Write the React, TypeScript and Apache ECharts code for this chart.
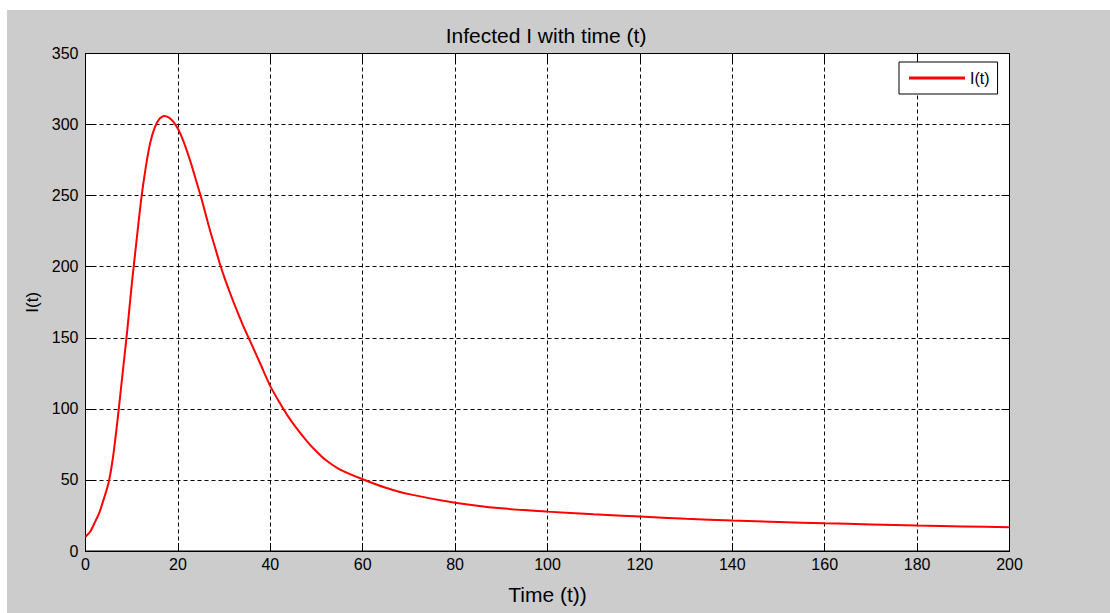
import React, { useEffect, useRef } from "react";
import * as echarts from "echarts";

const timeValues = [0, 1, 2, 3, 4, 5, 6, 7, 8, 9, 10, 11, 12, 13, 14, 15, 16, 17, 18, 19, 20, 21, 22, 23, 24, 25, 26, 27, 28, 29, 30, 31, 32, 34, 36, 38, 40, 42, 44, 46, 48, 50, 52, 55, 60, 65, 70, 80, 90, 100, 110, 120, 130, 140, 150, 160, 170, 180, 190, 200];
const infectedValues = [10, 13.5, 20, 27, 37, 48, 67, 94, 124, 154, 187, 217, 246, 269, 287, 298, 304, 306, 305, 302, 297, 290, 281, 271, 260, 249, 237, 225, 214, 203, 193, 184, 175.5, 159.5, 145, 130.5, 116, 104.5, 94, 85, 77, 70, 64, 57.5, 50.5, 44.5, 40, 34, 30, 27.7, 25.8, 24.2, 22.7, 21.4, 20.4, 19.5, 18.7, 17.9, 17.3, 16.7];
const xTicks = { min: 0, max: 200, interval: 20 };
const yTicks = { min: 0, max: 350, interval: 50 };
const titleText = "Infected I with time (t)";
const xName = "Time (t))";
const yName = "I(t)";
const seriesName = "I(t)";

const FONT = "'Liberation Sans', Arial, sans-serif";

export default function App() {
  const ref = useRef<HTMLDivElement>(null);
  useEffect(() => {
    if (!ref.current) return;
    const chart = echarts.init(ref.current, null, { renderer: "svg" });
    const data = timeValues.map((t, i) => [t, infectedValues[i]]);
    const baseTick = { show: true, inside: true, length: 8, lineStyle: { color: "#000", width: 1 } };
    const axisLine = { show: true, onZero: false, lineStyle: { color: "#000", width: 1 } };
    const split = { show: true, lineStyle: { color: "#000", width: 1, type: [4, 3] as any } };
    chart.setOption({
      animation: false,
      backgroundColor: "#cccccc",
      textStyle: { fontFamily: FONT },
      title: {
        text: titleText,
        left: 534,
        textAlign: "center",
        top: 10,
        textStyle: { fontSize: 21, fontWeight: "normal", color: "#000", fontFamily: FONT },
      },
      legend: {
        data: [{ name: seriesName, icon: "rect" }],
        left: 892,
        top: 52,
        backgroundColor: "#fff",
        borderColor: "#000",
        borderWidth: 1,
        borderRadius: 0,
        padding: [8, 8, 8, 10],
        itemWidth: 56,
        itemHeight: 3,
        itemGap: 6,
        textStyle: { fontSize: 16, color: "#000", fontFamily: FONT, lineHeight: 16 },
      },
      grid: {
        left: 78.5,
        top: 43.5,
        right: 100.5,
        bottom: 62,
        show: true,
        backgroundColor: "#fff",
        borderColor: "#000",
        borderWidth: 1,
        containLabel: false,
      },
      xAxis: [
        {
          type: "value",
          ...xTicks,
          position: "bottom",
          axisLine,
          axisTick: baseTick,
          splitLine: split,
          axisLabel: { color: "#000", fontSize: 16, margin: 5, fontFamily: FONT },
          name: xName,
          nameLocation: "middle",
          nameGap: 33,
          nameTextStyle: { fontSize: 21, color: "#000", fontFamily: FONT },
        },
        {
          type: "value",
          ...xTicks,
          position: "top",
          axisLine,
          axisTick: baseTick,
          splitLine: { show: false },
          axisLabel: { show: false },
        },
      ],
      yAxis: [
        {
          type: "value",
          ...yTicks,
          position: "left",
          axisLine,
          axisTick: baseTick,
          splitLine: split,
          axisLabel: { color: "#000", fontSize: 16, margin: 7, fontFamily: FONT },
          name: yName,
          nameLocation: "middle",
          nameGap: 44,
          nameTextStyle: { fontSize: 17, color: "#000", fontFamily: FONT },
        },
        {
          type: "value",
          ...yTicks,
          position: "right",
          axisLine,
          axisTick: baseTick,
          splitLine: { show: false },
          axisLabel: { show: false },
        },
      ],
      series: [
        {
          name: seriesName,
          type: "line",
          data,
          smooth: 0.2,
          symbol: "none",
          xAxisIndex: 0,
          yAxisIndex: 0,
          lineStyle: { color: "#ff0000", width: 2 },
          itemStyle: { color: "#ff0000" },
        },
      ],
    });
    return () => chart.dispose();
  }, []);
  return (
    <div
      ref={ref}
      style={{ position: "absolute", left: 7, top: 10, width: 1103, height: 603 }}
    />
  );
}
